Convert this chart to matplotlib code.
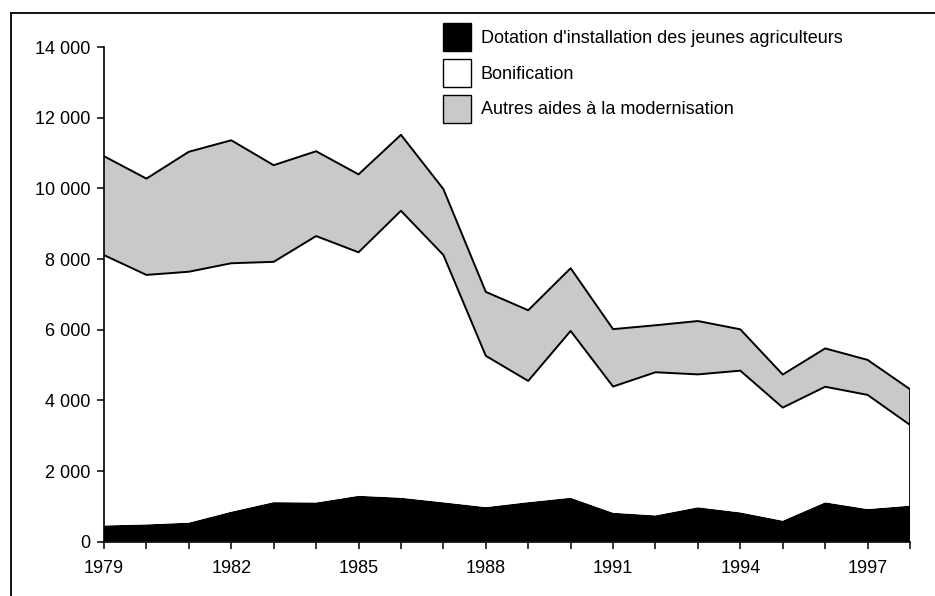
import matplotlib
matplotlib.use("Agg")
import matplotlib.pyplot as plt
import numpy as np
from matplotlib.lines import Line2D
from matplotlib.patches import Patch
from matplotlib.ticker import FuncFormatter

years = [1979, 1980, 1981, 1982, 1983, 1984, 1985, 1986, 1987, 1988,
         1989, 1990, 1991, 1992, 1993, 1994, 1995, 1996, 1997, 1998]
dotation = [460, 490, 540, 850, 1120, 1110, 1300, 1245, 1115, 980,
            1120, 1245, 820, 745, 975, 830, 595, 1115, 925, 1020]
bonification = [7650, 7060, 7100, 7030, 6800, 7540, 6890, 8120, 7000, 4280,
                3430, 4720, 3570, 4050, 3760, 4010, 3200, 3270, 3230, 2285]
autres = [2800, 2725, 3395, 3480, 2735, 2400, 2205, 2150, 1865, 1810,
          2000, 1775, 1625, 1330, 1510, 1170, 935, 1085, 990, 1010]
labels = ["Dotation d'installation des jeunes agriculteurs",
          "Bonification",
          "Autres aides à la modernisation"]
yticks = [0, 2000, 4000, 6000, 8000, 10000, 12000, 14000]
xlabel_years = [1979, 1982, 1985, 1988, 1991, 1994, 1997]

plt.rcParams['font.family'] = ['Liberation Sans', 'DejaVu Sans']
FS = 13

fig = plt.figure(figsize=(9.35, 5.96), dpi=100)
ax = fig.add_axes([104/935, 1-541.7/596, 806/935, 494.7/596])

x = np.array(years)
d = np.array(dotation)
b = d + np.array(bonification)
t = b + np.array(autres)

gray = '#c9c9c9'
ax.fill_between(x, 0, d, facecolor='black', edgecolor='none', linewidth=0)
ax.fill_between(x, d, b, facecolor='white', edgecolor='none', linewidth=0)
ax.fill_between(x, b, t, facecolor=gray, edgecolor='none', linewidth=0)
ax.plot(x, b, color='black', lw=1.4)
ax.plot(x, t, color='black', lw=1.4)
ax.plot([x[-1], x[-1]], [d[-1], t[-1]], color='black', lw=1.3)

ax.set_xlim(1979, 1998)
ax.set_ylim(0, 14000)
ax.set_yticks(yticks)
ax.yaxis.set_major_formatter(FuncFormatter(lambda v, p: f"{int(v):,}".replace(",", " ")))
ax.set_xticks(years)
ax.set_xticklabels([str(y) if y in xlabel_years else "" for y in years])
ax.tick_params(axis='both', direction='out', length=5, width=1.1, labelsize=FS, colors='black')
ax.tick_params(axis='y', pad=5)
ax.tick_params(axis='x', pad=8)
for s in ['top', 'right']:
    ax.spines[s].set_visible(False)
for s in ['left', 'bottom']:
    ax.spines[s].set_linewidth(1.2)
ax.set_facecolor('none')

handles = [Patch(facecolor='black', edgecolor='black', lw=1),
           Patch(facecolor='white', edgecolor='black', lw=1),
           Patch(facecolor=gray, edgecolor='black', lw=1)]
fig.legend(handles, labels, loc='upper left', bbox_to_anchor=(443/935, 1-23/596),
           frameon=False, fontsize=FS, handlelength=1.55, handleheight=2.0,
           labelspacing=0.44, handletextpad=0.55, borderpad=0, borderaxespad=0)

# outer frame (top and left)
fig.add_artist(Line2D([11/935, 11/935], [0, 1-13/596], color='black', lw=1.3, transform=fig.transFigure))
fig.add_artist(Line2D([11/935, 1], [1-13/596, 1-13/596], color='black', lw=1.3, transform=fig.transFigure))

fig.savefig('out.png', dpi=100)
